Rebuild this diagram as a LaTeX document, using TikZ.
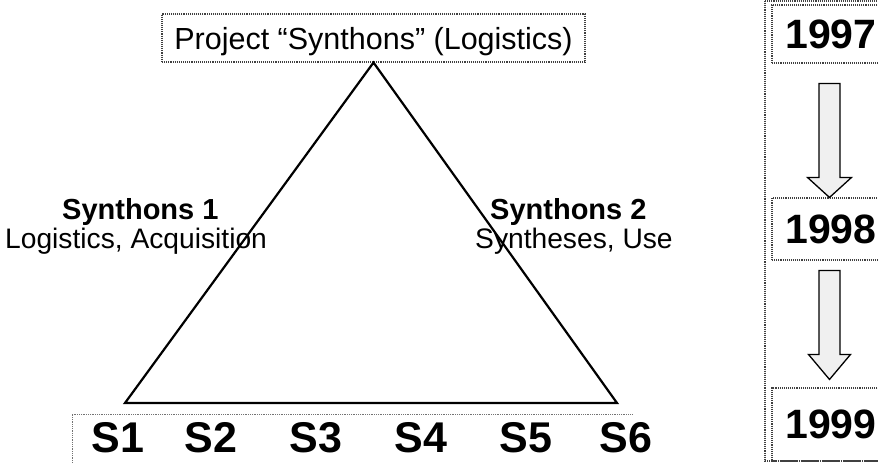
\documentclass[tikz,border=0pt]{standalone}
\usepackage{fontspec}
\setmainfont{Liberation Sans}
\usetikzlibrary{calc}
\newcommand{\fsz}[1]{\fontsize{#1}{#1}\selectfont}
\tikzset{
  dotbox/.style={draw=black!75, line width=1.1pt, densely dotted},
  yearbox/.style={dotbox, minimum width=118pt, inner sep=0pt, font=\fsz{41}\bfseries},
  label/.style={anchor=base west, inner sep=0pt},
  stage/.style={anchor=base, inner sep=0pt, font=\fsz{43}\bfseries},
  blockarrow/.style={draw=black, line width=1.3pt, fill=black!6, line join=miter},
  tri/.style={draw=black, line width=2.2pt, line join=miter}
}
\begin{document}
\begin{tikzpicture}[x=1pt, y=-1pt]
\useasboundingbox (0,0) rectangle (878,463);

% project title box above the triangle
\node[dotbox, minimum width=423pt, minimum height=48pt, inner sep=0pt,
      text height=22pt, text depth=0pt, font=\fsz{30.5}] (title) at (373.5,38)
  {Project “Synthons” (Logistics)};

% triangle
\coordinate (bl) at (125,403);
\coordinate (br) at (617,403);
\draw[tri] (title.south) -- (bl) -- (br) -- cycle;

% side labels
\node[label, font=\fsz{29}\bfseries] (s1head) at (62,219) {Synthons 1};
\node[label, font=\fsz{28.2}] (s1text) at (5,248) {Logistics, Acquisition};
\node[label, font=\fsz{29}\bfseries] (s2head) at (490,219) {Synthons 2};
\node[label, font=\fsz{28.2}] (s2text) at (475,248) {Syntheses, Use};

% stages along the base
\draw[draw=black!55, line width=0.8pt, densely dotted] (72,470) -- (72,414) -- (632,414);
\node[stage] (st1) at (118,452) {S1};
\node[stage] (st2) at (211,452) {S2};
\node[stage] (st3) at (316,452) {S3};
\node[stage] (st4) at (421,452) {S4};
\node[stage] (st5) at (526,452) {S5};
\node[stage] (st6) at (626,452) {S6};

% timeline column
\draw[dotbox] (765,1) -- (890,1) (765,1) -- (765,461) -- (890,461);
\node[yearbox, minimum height=58pt] (y1) at (831,34) {1997};
\node[yearbox, minimum height=62pt] (y2) at (831,229) {1998};
\node[yearbox, minimum height=73pt] (y3) at (831,424.5) {1999};

% block arrows between the years
\coordinate (a1t) at ($(y1.south)+(-1.5,20)$);
\coordinate (a1h) at (y2.north -| a1t);
\draw[blockarrow]
  ($(a1t)+(-10.5,0)$) -- ($(a1t)+(10.5,0)$) -- ($(a1h)+(10.5,-20)$) --
  ($(a1h)+(22,-20)$) -- (a1h) -- ($(a1h)+(-22,-20)$) -- ($(a1h)+(-10.5,-20)$) -- cycle;
\coordinate (a2t) at ($(y2.south)+(-1.5,10)$);
\coordinate (a2h) at ($(y3.north -| a2t)+(0,-8)$);
\draw[blockarrow]
  ($(a2t)+(-10.5,0)$) -- ($(a2t)+(10.5,0)$) -- ($(a2h)+(10.5,-25)$) --
  ($(a2h)+(21,-25)$) -- (a2h) -- ($(a2h)+(-21,-25)$) -- ($(a2h)+(-10.5,-25)$) -- cycle;
\end{tikzpicture}
\end{document}
